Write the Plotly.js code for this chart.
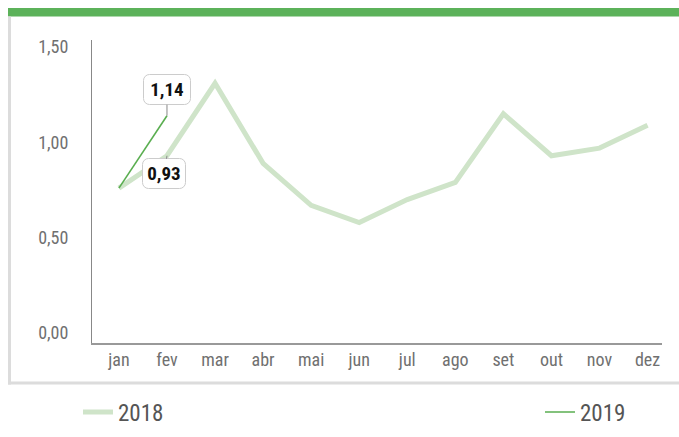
<!DOCTYPE html>
<html>
<head>
<meta charset="utf-8">
<script src="https://cdn.plot.ly/plotly-3.0.1.min.js"></script>
<style>html,body{margin:0;padding:0;background:#fff;}#chart{width:679px;height:437px;}</style>
</head>
<body>
<div id="chart"></div>
<script>
const months = ["jan","fev","mar","abr","mai","jun","jul","ago","set","out","nov","dez"];
const values2018 = [0.76,0.93,1.31,0.89,0.67,0.58,0.70,0.79,1.15,0.93,0.97,1.09];
const months2019 = ["jan","fev"];
const values2019 = [0.76,1.14];
const yTicks = [0, 0.5, 1.0, 1.5];

const FONT = '"Liberation Sans Narrow", "Roboto Condensed", "DejaVu Sans Condensed", sans-serif';
const W = 679, H = 437, L = 92, R = 17, T = 40, B = 94;
const cx = x => x / W;
const cy = y => (H - y) / H;

const traces = [
  {x: months, y: values2018, name: "2018", type: "scatter", mode: "lines",
   line: {color: "#cfe4c9", width: 5}, legend: "legend", hoverinfo: "skip"},
  {x: months2019, y: values2019, name: "2019", type: "scatter", mode: "lines",
   line: {color: "#5aae50", width: 1.6}, legend: "legend2", hoverinfo: "skip"}
];

const layout = {
  width: W, height: H,
  margin: {l: L, r: R, t: T, b: B, autoexpand: false},
  paper_bgcolor: "#fff", plot_bgcolor: "#fff",
  separators: ",.",
  font: {family: FONT, color: "#666", size: 18},
  xaxis: {type: "category", range: [-0.56, 11.3], showgrid: false, zeroline: false,
          showline: true, linecolor: "#999", linewidth: 1.5, ticks: "", ticklabelstandoff: 0,
          tickfont: {family: FONT, size: 18, color: "#707070"}, fixedrange: true, automargin: false},
  yaxis: {range: [-0.052, 1.537], tickvals: yTicks, tickformat: ".2f", showgrid: false,
          zeroline: false, showline: true, linecolor: "#888", linewidth: 1, ticks: "",
          ticklabelstandoff: 19, tickfont: {family: FONT, size: 18, color: "#707070"}, fixedrange: true, automargin: false},
  showlegend: true,
  legend: {xref: "container", yref: "container", x: cx(78), y: cy(412), xanchor: "left", yanchor: "middle",
           orientation: "h", font: {family: FONT, size: 23, color: "#555"}, bgcolor: "rgba(0,0,0,0)"},
  legend2: {xref: "container", yref: "container", x: cx(540), y: cy(412), xanchor: "left", yanchor: "middle",
           orientation: "h", font: {family: FONT, size: 23, color: "#555"}, bgcolor: "rgba(0,0,0,0)"},
  shapes: [
    {type: "rect", xref: "paper", yref: "paper", x0: (8 - L) / (W - L - R), x1: (679 - L) / (W - L - R),
     y0: (H - B - 16.5) / (H - T - B), y1: (H - B - 8) / (H - T - B),
     fillcolor: "#5cb25a", line: {width: 0}, layer: "below"},
    {type: "rect", xref: "paper", yref: "paper", x0: (8 - L) / (W - L - R), x1: (11 - L) / (W - L - R),
     y0: (H - B - 384.5) / (H - T - B), y1: (H - B - 16.5) / (H - T - B),
     fillcolor: "#dcdcdc", line: {width: 0}, layer: "below"},
    {type: "rect", xref: "paper", yref: "paper", x0: (8 - L) / (W - L - R), x1: (679 - L) / (W - L - R),
     y0: (H - B - 384.5) / (H - T - B), y1: (H - B - 381.5) / (H - T - B),
     fillcolor: "#dcdcdc", line: {width: 0}, layer: "below"}
  ],
  annotations: [
    {x: "fev", y: values2019[1], xref: "x", yref: "y", text: "<b>1,14</b>",
     showarrow: true, arrowhead: 0, arrowwidth: 1, arrowcolor: "#888", ax: 0, ay: -26, standoff: 0,
     font: {family: FONT, size: 19, color: "#111"}, bgcolor: "#fff", bordercolor: "#ccc",
     borderwidth: 1, borderpad: 3, width: 40},
    {x: "fev", y: values2018[1], xref: "x", yref: "y", text: "<b>0,93</b>",
     showarrow: true, arrowhead: 0, arrowwidth: 1, arrowcolor: "#888", ax: -3, ay: 18, standoff: 0,
     font: {family: FONT, size: 19, color: "#111"}, bgcolor: "#fff", bordercolor: "#ccc",
     borderwidth: 1, borderpad: 3, width: 36}
  ]
};

Plotly.newPlot("chart", traces, layout, {displayModeBar: false, staticPlot: true}).then(() => {
  document.querySelectorAll(".annotation-text-g rect.bg").forEach(r => {
    r.setAttribute("rx", 6); r.setAttribute("ry", 6);
  });
});
</script>
</body>
</html>
